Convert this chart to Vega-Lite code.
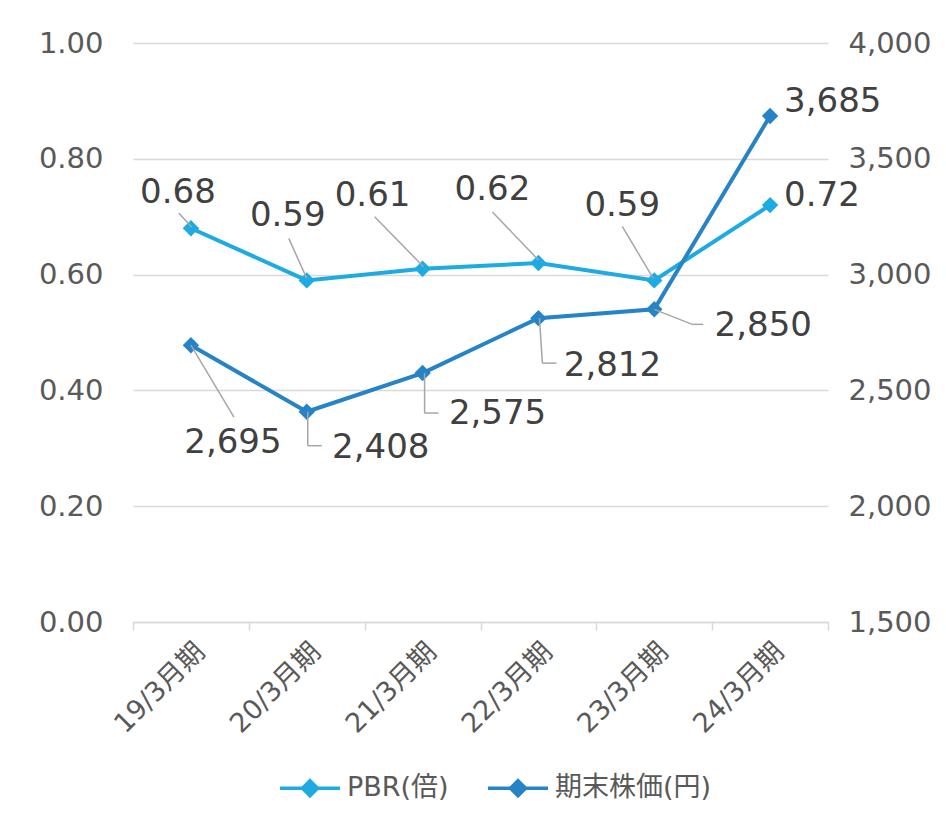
{
  "$schema": "https://vega.github.io/schema/vega-lite/v6.json",
  "width": 695,
  "height": 579,
  "autosize": {"type": "none"},
  "padding": {"left": 133, "top": 43, "right": 118, "bottom": 196},
  "background": "white",
  "config": {
    "view": {"stroke": null},
    "font": "DejaVu Sans, Noto Sans CJK JP",
    "text": {"font": "DejaVu Sans, Noto Sans CJK JP", "fontSize": 34, "color": "#404040", "baseline": "middle", "align": "center"}
  },
  "data": {"values": [
    {"period": "19/3月期", "pbr": 0.68, "price": 2695},
    {"period": "20/3月期", "pbr": 0.59, "price": 2408},
    {"period": "21/3月期", "pbr": 0.61, "price": 2575},
    {"period": "22/3月期", "pbr": 0.62, "price": 2812},
    {"period": "23/3月期", "pbr": 0.59, "price": 2850},
    {"period": "24/3月期", "pbr": 0.72, "price": 3685}
  ]},
  "encoding": {
    "x": {
      "field": "period", "type": "ordinal", "sort": null, "bandPosition": 0.5,
      "scale": {"type": "band", "paddingInner": 0, "paddingOuter": 0},
      "axis": {
        "title": null, "labelAngle": -45, "tickBand": "extent", "ticks": true,
        "tickColor": "#D9D9D9", "tickSize": 8, "tickWidth": 1.5,
        "domainColor": "#D9D9D9", "domainWidth": 1.5,
        "labelFont": "DejaVu Sans, Noto Sans CJK JP", "labelFontSize": 27, "labelColor": "#595959",
        "labelPadding": 8, "grid": false
      }
    }
  },
  "layer": [
    {
      "encoding": {
        "y": {
          "field": "pbr", "type": "quantitative",
          "scale": {"domain": [0, 1]},
          "axis": {
            "title": null, "values": [0, 0.2, 0.4, 0.6, 0.8, 1], "format": ".2f",
            "domain": false, "ticks": false, "labelPadding": 30,
            "labelFont": "DejaVu Sans", "labelFontSize": 29, "labelColor": "#595959",
            "grid": true, "gridColor": "#D9D9D9", "gridWidth": 1.5
          }
        }
      },
      "layer": [
        {
          "mark": {"type": "line", "strokeWidth": 4, "point": {"shape": "diamond", "size": 270, "filled": true, "opacity": 1}},
          "encoding": {
            "color": {
              "datum": "PBR(倍)",
              "scale": {"domain": ["PBR(倍)", "期末株価(円)"], "range": ["#1DABE2", "#2684C6"]},
              "legend": {
                "orient": "none", "legendX": 145, "legendY": 713, "direction": "horizontal",
                "title": null, "symbolType": "M-1,0H1M0,-0.25L0.25,0L0,0.25L-0.25,0Z",
                "symbolSize": 3600, "symbolStrokeWidth": 3.5,
                "labelFont": "DejaVu Sans, Noto Sans CJK JP", "labelFontSize": 27, "labelColor": "#595959",
                "columnPadding": 32, "labelOffset": 5, "padding": 0,
                "encode": {"symbols": {"update": {"fill": {"scale": "color", "field": "value"}, "stroke": {"scale": "color", "field": "value"}, "opacity": {"value": 1}}}}
              }
            }
          }
        },
        {"transform": [{"filter": "datum.period === '19/3月期'"}], "mark": {"type": "rule", "color": "#A6A6A6", "strokeWidth": 1.5, "xOffset": -12, "yOffset": -15, "x2Offset": 1, "y2Offset": -1}, "encoding": {"x2": {"field": "period", "bandPosition": 0.5}, "y2": {"field": "pbr"}}},
        {"transform": [{"filter": "datum.period === '20/3月期'"}], "mark": {"type": "rule", "color": "#A6A6A6", "strokeWidth": 1.5, "xOffset": -18, "yOffset": -42, "x2Offset": 0, "y2Offset": -2}, "encoding": {"x2": {"field": "period", "bandPosition": 0.5}, "y2": {"field": "pbr"}}},
        {"transform": [{"filter": "datum.period === '21/3月期'"}], "mark": {"type": "rule", "color": "#A6A6A6", "strokeWidth": 1.5, "xOffset": -48, "yOffset": -52, "x2Offset": 1, "y2Offset": -2}, "encoding": {"x2": {"field": "period", "bandPosition": 0.5}, "y2": {"field": "pbr"}}},
        {"transform": [{"filter": "datum.period === '22/3月期'"}], "mark": {"type": "rule", "color": "#A6A6A6", "strokeWidth": 1.5, "xOffset": -46, "yOffset": -51, "x2Offset": 0, "y2Offset": -3}, "encoding": {"x2": {"field": "period", "bandPosition": 0.5}, "y2": {"field": "pbr"}}},
        {"transform": [{"filter": "datum.period === '23/3月期'"}], "mark": {"type": "rule", "color": "#A6A6A6", "strokeWidth": 1.5, "xOffset": -32, "yOffset": -54, "x2Offset": -1, "y2Offset": -2}, "encoding": {"x2": {"field": "period", "bandPosition": 0.5}, "y2": {"field": "pbr"}}},
        {"transform": [{"filter": "datum.period === '19/3月期'"}], "mark": {"type": "text", "dx": -13, "dy": -35}, "encoding": {"text": {"field": "pbr", "format": ".2f"}}},
        {"transform": [{"filter": "datum.period === '20/3月期'"}], "mark": {"type": "text", "dx": -19, "dy": -64}, "encoding": {"text": {"field": "pbr", "format": ".2f"}}},
        {"transform": [{"filter": "datum.period === '21/3月期'"}], "mark": {"type": "text", "dx": -50, "dy": -73}, "encoding": {"text": {"field": "pbr", "format": ".2f"}}},
        {"transform": [{"filter": "datum.period === '22/3月期'"}], "mark": {"type": "text", "dx": -46, "dy": -73}, "encoding": {"text": {"field": "pbr", "format": ".2f"}}},
        {"transform": [{"filter": "datum.period === '23/3月期'"}], "mark": {"type": "text", "dx": -32, "dy": -74}, "encoding": {"text": {"field": "pbr", "format": ".2f"}}},
        {"transform": [{"filter": "datum.period === '24/3月期'"}], "mark": {"type": "text", "align": "left", "dx": 14, "dy": -9}, "encoding": {"text": {"field": "pbr", "format": ".2f"}}}
      ]
    },
    {
      "encoding": {
        "y": {
          "field": "price", "type": "quantitative",
          "scale": {"domain": [1500, 4000]},
          "axis": {
            "orient": "right", "title": null, "values": [1500, 2000, 2500, 3000, 3500, 4000], "format": ",d",
            "domain": false, "ticks": false, "labelPadding": 20, "grid": false,
            "labelFont": "DejaVu Sans", "labelFontSize": 29, "labelColor": "#595959"
          }
        }
      },
      "layer": [
        {
          "mark": {"type": "line", "strokeWidth": 4, "point": {"shape": "diamond", "size": 270, "filled": true, "opacity": 1}},
          "encoding": {"color": {"datum": "期末株価(円)"}}
        },
        {"transform": [{"filter": "datum.period === '19/3月期'"}], "mark": {"type": "rule", "color": "#A6A6A6", "strokeWidth": 1.5, "xOffset": 0, "yOffset": 0, "x2Offset": 43, "y2Offset": 72}, "encoding": {"x2": {"field": "period", "bandPosition": 0.5}, "y2": {"field": "price"}}},
        {"transform": [{"filter": "datum.period === '20/3月期'"}], "mark": {"type": "rule", "color": "#A6A6A6", "strokeWidth": 1.5, "xOffset": 1, "yOffset": 0, "x2Offset": 1, "y2Offset": 34}, "encoding": {"x2": {"field": "period", "bandPosition": 0.5}, "y2": {"field": "price"}}},
        {"transform": [{"filter": "datum.period === '20/3月期'"}], "mark": {"type": "rule", "color": "#A6A6A6", "strokeWidth": 1.5, "xOffset": 1, "yOffset": 34, "x2Offset": 15, "y2Offset": 34}, "encoding": {"x2": {"field": "period", "bandPosition": 0.5}, "y2": {"field": "price"}}},
        {"transform": [{"filter": "datum.period === '21/3月期'"}], "mark": {"type": "rule", "color": "#A6A6A6", "strokeWidth": 1.5, "xOffset": 2, "yOffset": 0, "x2Offset": 2, "y2Offset": 40}, "encoding": {"x2": {"field": "period", "bandPosition": 0.5}, "y2": {"field": "price"}}},
        {"transform": [{"filter": "datum.period === '21/3月期'"}], "mark": {"type": "rule", "color": "#A6A6A6", "strokeWidth": 1.5, "xOffset": 2, "yOffset": 40, "x2Offset": 16, "y2Offset": 40}, "encoding": {"x2": {"field": "period", "bandPosition": 0.5}, "y2": {"field": "price"}}},
        {"transform": [{"filter": "datum.period === '22/3月期'"}], "mark": {"type": "rule", "color": "#A6A6A6", "strokeWidth": 1.5, "xOffset": 1, "yOffset": 0, "x2Offset": 4, "y2Offset": 45}, "encoding": {"x2": {"field": "period", "bandPosition": 0.5}, "y2": {"field": "price"}}},
        {"transform": [{"filter": "datum.period === '22/3月期'"}], "mark": {"type": "rule", "color": "#A6A6A6", "strokeWidth": 1.5, "xOffset": 4, "yOffset": 45, "x2Offset": 18, "y2Offset": 45}, "encoding": {"x2": {"field": "period", "bandPosition": 0.5}, "y2": {"field": "price"}}},
        {"transform": [{"filter": "datum.period === '23/3月期'"}], "mark": {"type": "rule", "color": "#A6A6A6", "strokeWidth": 1.5, "xOffset": 0, "yOffset": 0, "x2Offset": 38, "y2Offset": 15}, "encoding": {"x2": {"field": "period", "bandPosition": 0.5}, "y2": {"field": "price"}}},
        {"transform": [{"filter": "datum.period === '23/3月期'"}], "mark": {"type": "rule", "color": "#A6A6A6", "strokeWidth": 1.5, "xOffset": 38, "yOffset": 15, "x2Offset": 49, "y2Offset": 15}, "encoding": {"x2": {"field": "period", "bandPosition": 0.5}, "y2": {"field": "price"}}},
        {"transform": [{"filter": "datum.period === '19/3月期'"}], "mark": {"type": "text", "dx": 42, "dy": 98}, "encoding": {"text": {"field": "price", "format": ",d"}}},
        {"transform": [{"filter": "datum.period === '20/3月期'"}], "mark": {"type": "text", "dx": 74, "dy": 36}, "encoding": {"text": {"field": "price", "format": ",d"}}},
        {"transform": [{"filter": "datum.period === '21/3月期'"}], "mark": {"type": "text", "dx": 75, "dy": 41}, "encoding": {"text": {"field": "price", "format": ",d"}}},
        {"transform": [{"filter": "datum.period === '22/3月期'"}], "mark": {"type": "text", "dx": 74, "dy": 48}, "encoding": {"text": {"field": "price", "format": ",d"}}},
        {"transform": [{"filter": "datum.period === '23/3月期'"}], "mark": {"type": "text", "dx": 109, "dy": 17}, "encoding": {"text": {"field": "price", "format": ",d"}}},
        {"transform": [{"filter": "datum.period === '24/3月期'"}], "mark": {"type": "text", "align": "left", "dx": 14, "dy": -14}, "encoding": {"text": {"field": "price", "format": ",d"}}}
      ]
    }
  ],
  "resolve": {"scale": {"y": "independent"}}
}
